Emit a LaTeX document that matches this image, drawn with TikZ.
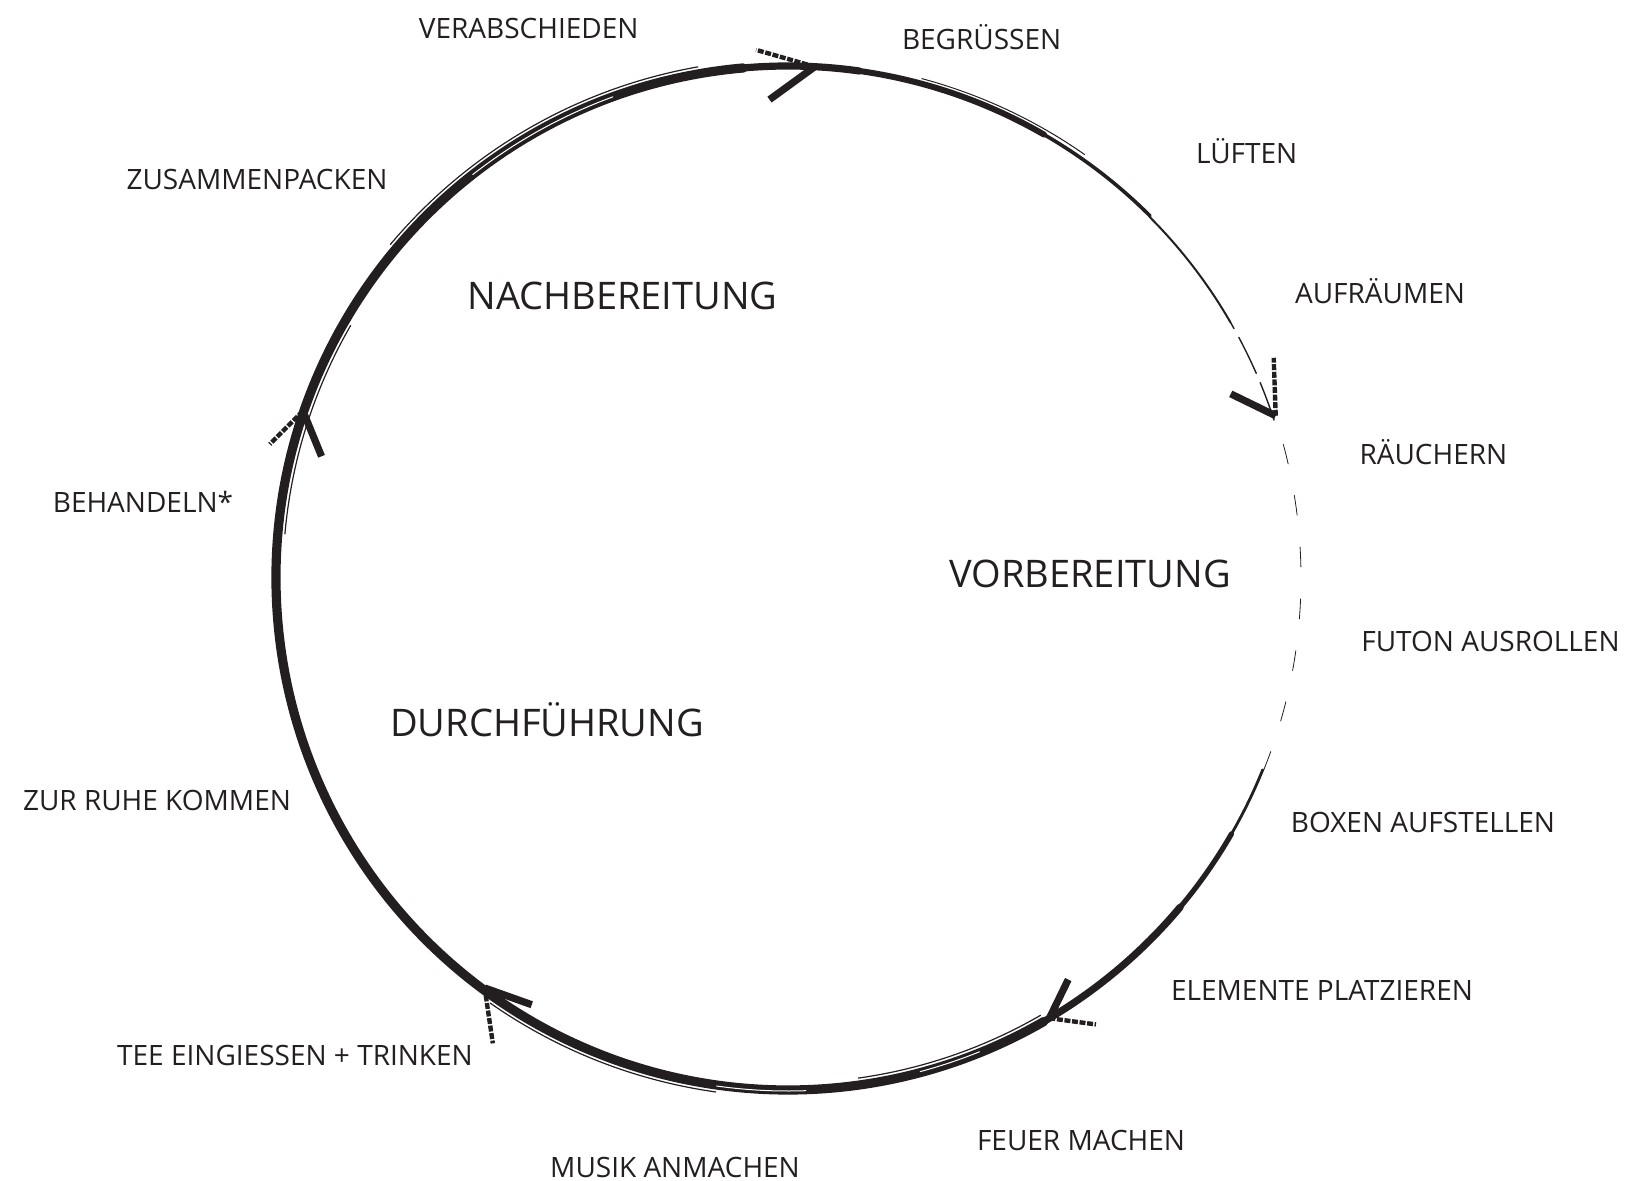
\documentclass[tikz,border=0pt]{standalone}
\usepackage{fontspec}
\setmainfont{Open Sans}
\usetikzlibrary{calc}
\definecolor{ink}{HTML}{231F20}
\begin{document}
\begin{tikzpicture}[x=0.5pt,y=0.5pt,
  lbl/.style={font=\fontsize{14}{16}\selectfont, text=ink, inner sep=0pt, anchor=base},
  phase/.style={font=\fontsize{19}{22}\selectfont, text=ink, inner sep=0pt, anchor=base},
  brush/.style={draw=ink, line cap=round},
  armthick/.style={draw=ink, line cap=butt, line width=3.6pt},
  armfuzzy/.style={draw=ink, line cap=butt, line width=2.2pt, dash pattern=on 3pt off 0.8pt}]
\useasboundingbox (0,0) rectangle (1627,-1181);
\coordinate (c) at (788,-578);
\newcommand\barc[4][]{\draw[brush,#1] ($(c)+(#2:#4)$) arc[start angle=#2, end angle=#3, radius=#4];}
% ---- brush circle ----
\barc[line width=4.6pt]{95}{300}{512}
\barc[line width=3.6pt]{82}{95}{512}
\barc[line width=3.6pt]{300}{320}{512}
\barc[line width=2.6pt]{320}{330}{512}
\barc[line width=1.4pt]{330}{338}{512}
\barc[line width=0.4pt, dash pattern=on 10pt off 16pt]{338}{378}{513}
\barc[line width=0.7pt, dash pattern=on 20pt off 5pt]{18}{30}{511}
\barc[line width=1.0pt]{30}{45}{511}
\barc[line width=1.8pt]{45}{60}{512}
\barc[line width=3.0pt]{60}{82}{512}
% texture streaks
\barc[line width=0.6pt]{100}{140}{519}
\barc[line width=0.6pt]{150}{175}{505}
\barc[line width=0.6pt]{235}{262}{519}
\barc[line width=0.6pt]{278}{300}{505}
\barc[draw=white, line width=0.5pt]{110}{128}{512}
\barc[draw=white, line width=0.5pt]{262}{272}{513}
\barc[draw=white, line width=0.5pt]{285}{292}{511}
\barc[line width=0.5pt]{55}{75}{517}
% ---- arrowheads (clockwise) ----
\coordinate (t1) at ($(c)+(87:512)$);
\coordinate (t2) at ($(c)+(18.4:514)$);
\coordinate (t3) at ($(c)+(-59.3:512)$);
\coordinate (t4) at ($(c)+(-126.5:510)$);
\coordinate (t5) at ($(c)+(161:513)$);
\draw[armfuzzy] (t1) -- ++(164:61);
\draw[armthick] (t1) -- ++(216:56);
\draw[armthick] (t2) -- ++(154:50);
\draw[armfuzzy] (t2) -- ++(92:58);
\draw[armthick] (t3) -- ++(64:43);
\draw[armfuzzy] (t3) -- ++(-7.6:47);
\draw[armthick] (t4) -- ++(-19.6:50);
\draw[armfuzzy] (t4) -- ++(-81.6:56);
\draw[armfuzzy] (t5) -- ++(-135:47);
\draw[armthick] (t5) -- ++(-67.7:49);
% ---- labels ----
\node[lbl] (verab) at (528.7,-39) {VERABSCHIEDEN};
\node[lbl] (begr) at (981.6,-49.4) {BEGRÜSSEN};
\node[lbl] (lueft) at (1246.7,-163.6) {LÜFTEN};
\node[lbl] (aufr) at (1380,-303.6) {AUFRÄUMEN};
\node[lbl] (raeuch) at (1433.4,-464.5) {RÄUCHERN};
\node[lbl] (futon) at (1490.5,-651) {FUTON AUSROLLEN};
\node[lbl] (boxen) at (1423,-832) {BOXEN AUFSTELLEN};
\node[lbl] (elem) at (1322,-1000) {ELEMENTE PLATZIEREN};
\node[lbl] (feuer) at (1081,-1150) {FEUER MACHEN};
\node[lbl] (musik) at (675,-1177) {MUSIK ANMACHEN};
\node[lbl] (tee) at (295,-1065) {TEE EINGIESSEN + TRINKEN};
\node[lbl] (ruhe) at (157,-810) {ZUR RUHE KOMMEN};
\node[lbl] (behand) at (143,-513) {BEHANDELN*};
\node[lbl] (zusam) at (257,-189.5) {ZUSAMMENPACKEN};
\node[phase] (nach) at (622.6,-310) {NACHBEREITUNG};
\node[phase] (vor) at (1090,-588) {VORBEREITUNG};
\node[phase] (durch) at (547,-736) {DURCHFÜHRUNG};
\end{tikzpicture}
\end{document}
